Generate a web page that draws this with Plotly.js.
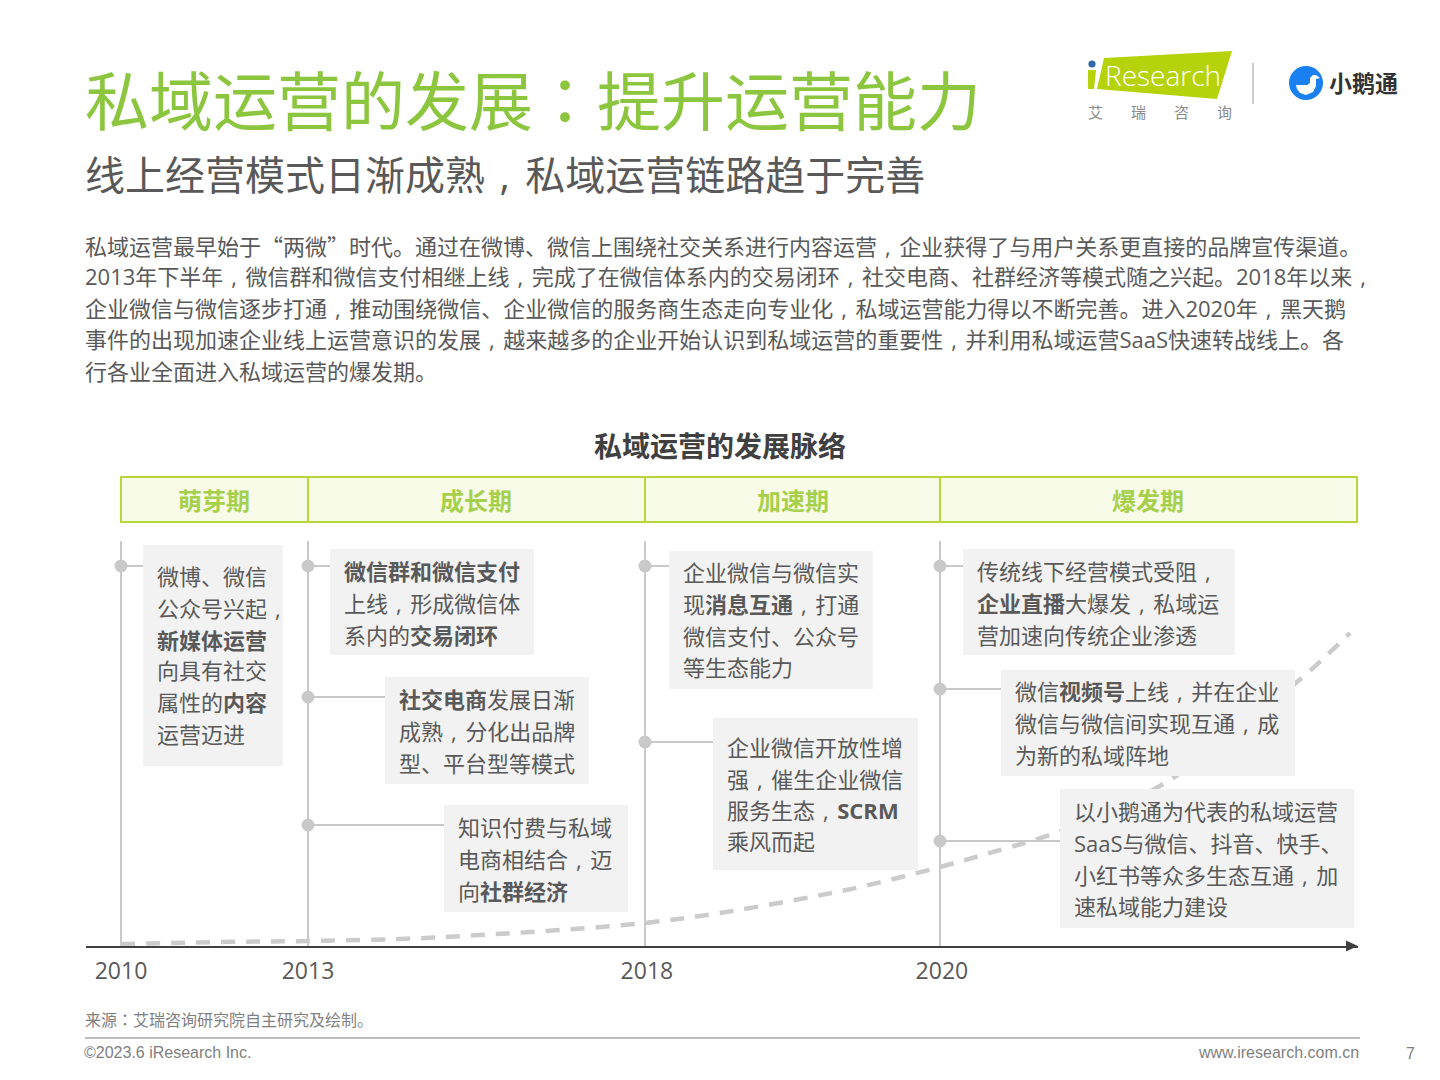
<!DOCTYPE html>
<html><head><meta charset="utf-8">
<script src="https://cdn.plot.ly/plotly-3.0.1.min.js"></script>
<style>html,body{margin:0;padding:0;background:#fff}#c{width:1440px;height:1080px}</style></head>
<body><div id="c"></div>
<script>
// ---------- content ----------
const mainTitle = "私域运营的发展：提升运营能力";
const subTitle = "线上经营模式日渐成熟，私域运营链路趋于完善";
const intro = [
 "私域运营最早始于“两微”时代。通过在微博、微信上围绕社交关系进行内容运营，企业获得了与用户关系更直接的品牌宣传渠道。",
 "2013年下半年，微信群和微信支付相继上线，完成了在微信体系内的交易闭环，社交电商、社群经济等模式随之兴起。2018年以来，",
 "企业微信与微信逐步打通，推动围绕微信、企业微信的服务商生态走向专业化，私域运营能力得以不断完善。进入2020年，黑天鹅",
 "事件的出现加速企业线上运营意识的发展，越来越多的企业开始认识到私域运营的重要性，并利用私域运营SaaS快速转战线上。各",
 "行各业全面进入私域运营的爆发期。"];
const chartTitle = "私域运营的发展脉络";
const periods = ["萌芽期","成长期","加速期","爆发期"];
const years = ["2010","2013","2018","2020"];
const yearTicks = [121,308,645,940];
// dashed growth curve (axis units above the time axis)
const growthX = [121,220,308,400,480,560,645,720,800,860,940,1000,1050,1110,1173,1230,1297,1350];
const growthY = [2,4,5,7,11,16,23,33,47,59,79,96,111,135,168,213,264,313];
const notes1 = [
 ["微博、微信","公众号兴起，","<b>新媒体运营</b>","向具有社交","属性的<b>内容</b>","运营迈进"],
];
const notes2 = [
 ["<b>微信群和微信支付</b>","上线，形成微信体","系内的<b>交易闭环</b>"],
 ["<b>社交电商</b>发展日渐","成熟，分化出品牌","型、平台型等模式"],
 ["知识付费与私域","电商相结合，迈","向<b>社群经济</b>"],
];
const notes3 = [
 ["企业微信与微信实","现<b>消息互通</b>，打通","微信支付、公众号","等生态能力"],
 ["企业微信开放性增","强，催生企业微信","服务生态，<b>SCRM</b>","乘风而起"],
];
const notes4 = [
 ["传统线下经营模式受阻，","<b>企业直播</b>大爆发，私域运","营加速向传统企业渗透"],
 ["微信<b>视频号</b>上线，并在企业","微信与微信间实现互通，成","为新的私域阵地"],
 ["以小鹅通为代表的私域运营","SaaS与微信、抖音、快手、","小红书等众多生态互通，加","速私域能力建设"],
];
const sourceText = "来源：艾瑞咨询研究院自主研究及绘制。";
const copyright = "©2023.6 iResearch Inc.";
const website = "www.iresearch.com.cn";
const pageNo = "7";

// ---------- page geometry (pixels on the 1440x1080 page) ----------
const P = {l:86, r:1358, t:541, b:946};
const X = v => (v-P.l)/(P.r-P.l);
const Y = v => (P.b-v)/(P.b-P.t);
const FONT = '"Open Sans","Noto Sans CJK SC",sans-serif';
const GREY = "#595959", LINE = "#c9c9c9", BOX = "#f2f2f2";
const punct = s => s.replace(/：/g, m=>`<span style="font-family:'Noto Sans CJK TC'">${m}</span>`)
                    .replace(/，/g, `<span style="letter-spacing:.028em;font-family:'Open Sans'">\u2004,\u2004</span>`)
                    .replace(/[“”]/g, m=>`<span style="font-family:'Noto Sans CJK SC'">${m}</span>`);
const ann = [], shapes = [];
function T(text,x,y,size,color,o={}){
  const xa=o.xanchor||"left";
  const dx = xa==="left"?-1.5:(xa==="center"?-1:1);
  ann.push(Object.assign({text:punct(text),x:X(x+dx),y:Y(y-2),xref:"paper",yref:"paper",showarrow:false,
    xanchor:"left",yanchor:"middle",align:"left",borderpad:0,
    font:{family:FONT,size,color}},o));
}
function rect(x0,y0,x1,y1,fill,lineColor,w,layer="above"){
  shapes.push({type:"rect",xref:"paper",yref:"paper",x0:X(x0),x1:X(x1),y0:Y(y0),y1:Y(y1),layer,
    fillcolor:fill,line:{color:lineColor||"rgba(0,0,0,0)",width:w||0}});
}
function seg(x0,y0,x1,y1,c,w){
  shapes.push({type:"line",xref:"paper",yref:"paper",x0:X(x0),x1:X(x1),y0:Y(y0),y1:Y(y1),layer:"above",line:{color:c,width:w}});
}
function poly(pts,fill){
  const d = pts.map((p,i)=>(i?"L":"M")+X(p[0])+","+Y(p[1])).join(" ")+" Z";
  shapes.push({type:"path",xref:"paper",yref:"paper",path:d,fillcolor:fill,line:{width:0},layer:"above"});
}
function circle(cx,cy,r,fill){
  shapes.push({type:"circle",xref:"paper",yref:"paper",x0:X(cx-r),x1:X(cx+r),y0:Y(cy-r),y1:Y(cy+r),fillcolor:fill,line:{width:0},layer:"above"});
}

// header
T(mainTitle,85,99,64,"#8cc63f");
T(subTitle,85,176,40,GREY);
[247,278,310,341,373].forEach((y,i)=>T(intro[i],85,y,22,GREY));
T(chartTitle,720.5,447.5,28,"#404040",{xanchor:"center",font:{family:FONT,size:28,color:"#404040",weight:700}});

// period bar
const periodEdges=[121,308,645,940,1357];
const periodNudge=[0,0,1.5,0];
rect(121,477,1357,522,"#f7fbe8","#b6d63c",2);
periodEdges.slice(1,4).forEach(x=>seg(x,477,x,522,"#b6d63c",2));
periods.forEach((p,i)=>T("<b>"+p+"</b>",(periodEdges[i]+periodEdges[i+1])/2+periodNudge[i],502,24,"#a6d04b",{xanchor:"center"}));

// note boxes: [content, timeline index, dot y, box x0,y0,x1,y1, line ys]
const layoutNotes = [
 [notes1[0],0,566,143,545,283,766,[578,610,642,672,704,736]],
 [notes2[0],1,566,330,549,534,655,[573,605,637]],
 [notes2[1],1,697,385,677,589,784,[701,733,765]],
 [notes2[2],1,825,444,805,628,912,[829,861,893]],
 [notes3[0],2,566,669,551,873,689,[574,606,638,669]],
 [notes3[1],2,742,713,718,918,870,[749,781,812,843]],
 [notes4[0],3,566,963,549,1235,655,[573,605,637]],
 [notes4[1],3,689,1001,670,1295,776,[693,725,757]],
 [notes4[2],3,841,1060,789,1354,928,[813,845,877,908]],
];
const traces=[];
traces.push({x:growthX,y:growthY,type:"scatter",mode:"lines",line:{color:"#cbcbcb",width:4.5,dash:"14px,11px",shape:"spline",smoothing:1},hoverinfo:"skip",cliponaxis:false});
const dotX=[],dotY=[];
layoutNotes.forEach(n=>{
  const [lines,idx,dy,x0,y0,x1,y1,ys]=n;
  const vx=yearTicks[idx], vy=P.b-dy;
  dotX.push(vx);dotY.push(vy);
  traces.push({x:[vx,x0],y:[vy,vy],type:"scatter",mode:"lines",line:{color:LINE,width:2},hoverinfo:"skip"});
  rect(x0,y0,x1,y1,BOX);
  lines.forEach((t,i)=>T(t,x0+14,ys[i],22,GREY));
});
traces.push({x:dotX,y:dotY,type:"scatter",mode:"markers",marker:{color:LINE,size:13},hoverinfo:"skip",cliponaxis:false});

// axis arrow
poly([[1346,940.5],[1358,946],[1346,951.5]],"#404040");

// footer
T(sourceText,85,1021,16,"#7f7f7f");
seg(85,1038,1360,1038,"#a6a6a6",1.5);
const LAT='"Liberation Sans",sans-serif';
T(copyright,84,1054,16,"#7f7f7f",{font:{family:LAT,size:16,color:"#7f7f7f"}});
T(website,1359,1054,16,"#7f7f7f",{xanchor:"right",font:{family:LAT,size:16,color:"#7f7f7f"}});
T(pageNo,1411,1055,16,"#7f7f7f",{xanchor:"center",font:{family:LAT,size:16,color:"#7f7f7f"}});

// logos
poly([[1104,58],[1232,51],[1217,99],[1097,89]],"#b5d20a");
poly([[1088,70],[1096,70],[1094,89],[1088,89]],"#b5d20a");
circle(1092,64,3.6,"#2f6aa8");
T("Research",1105,77,28,"#ffffff",{font:{family:'"Open Sans",sans-serif',size:28,color:"#fff",weight:300}});
["艾","瑞","咨","询"].forEach((c,i)=>T(c,[1096,1139,1182,1225][i],114,15,"#8a8a8a",{xanchor:"center"}));
seg(1253,63,1253,104,"#bdbdbd",1.5);
circle(1306,83,17,"#1a7ff0");
poly([[1296,85],[1307,85],[1310,83],[1310,78],[1313,75],[1316,75],[1320,78],[1316,79],[1316,86],[1313,92],[1306,95],[1300,93],[1297,89]],"#ffffff");
T("<b>小鹅通</b>",1329,85,23,"#333333");

Plotly.newPlot("c",traces,{
  width:1440,height:1080,paper_bgcolor:"#fff",plot_bgcolor:"rgba(0,0,0,0)",showlegend:false,hovermode:false,
  margin:{l:P.l,r:1440-P.r,t:P.t,b:1080-P.b,pad:0},
  xaxis:{range:[P.l,P.r],fixedrange:true,tickmode:"array",tickvals:yearTicks,
    ticktext:years.map((y,i)=>i>=2?"\u2009"+y:y),
    showgrid:true,gridcolor:LINE,gridwidth:2,zeroline:false,showline:true,linecolor:"#404040",linewidth:2,
    ticks:"outside",ticklen:3,tickcolor:"rgba(0,0,0,0)",tickfont:{family:FONT,size:23,color:GREY}},
  yaxis:{range:[0,P.b-P.t],fixedrange:true,visible:false},
  shapes:shapes,annotations:ann
},{displayModeBar:false,staticPlot:true});
</script></body></html>
